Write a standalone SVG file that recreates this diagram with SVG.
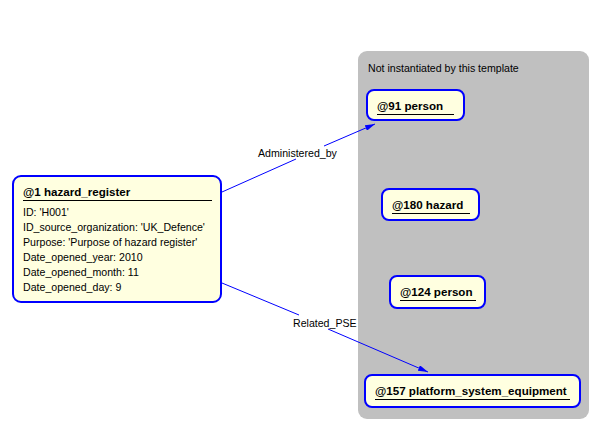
<svg xmlns="http://www.w3.org/2000/svg" width="614" height="447" viewBox="0 0 614 447">
<style>
text{font-family:"Liberation Sans",Arial,sans-serif;font-size:10.6px;fill:#000}
.t{font-weight:bold;font-size:11.6px}
.n{fill:#FFFFE0;stroke:#0000FF;stroke-width:2}
.u{stroke:#000;stroke-width:1}
.c{stroke:#0000FF;stroke-width:1;fill:none}
</style>
<defs>
<marker id="ah" viewBox="0 0 10 6" refX="10" refY="3" markerWidth="10" markerHeight="6" orient="auto" markerUnits="userSpaceOnUse">
<path d="M0,0 L10,3 L0,6 Z" fill="#0000FF"/>
</marker>
</defs>
<rect width="614" height="447" fill="#fff"/>
<g id="template">
<rect x="358" y="51" width="231" height="368" rx="9" fill="#C0C0C0"/>
<text x="368" y="72">Not instantiated by this template</text>
</g>
<g id="connectors">
<polyline class="c" points="222,192 296,159"/>
<polyline class="c" points="324,146 375,124" marker-end="url(#ah)"/>
<text x="258" y="157">Administered_by</text>
<polyline class="c" points="222,283 299,315"/>
<polyline class="c" points="328,329 428,372" marker-end="url(#ah)"/>
<text x="293" y="327">Related_PSE</text>
</g>
<g id="n1">
<rect class="n" x="13" y="176" width="208" height="126" rx="8"/>
<text class="t" x="23" y="196">@1 hazard_register</text>
<line class="u" x1="23" y1="200.5" x2="212" y2="200.5"/>
<text x="23" y="216">ID: 'H001'</text>
<text x="23" y="231">ID_source_organization: 'UK_Defence'</text>
<text x="23" y="246">Purpose: 'Purpose of hazard register'</text>
<text x="23" y="261">Date_opened_year: 2010</text>
<text x="23" y="276">Date_opened_month: 11</text>
<text x="23" y="291">Date_opened_day: 9</text>
</g>
<g id="n91">
<rect class="n" x="367" y="90" width="97" height="30" rx="7"/>
<text class="t" x="377" y="110">@91 person</text>
<line class="u" x1="377" y1="114.5" x2="454" y2="114.5"/>
</g>
<g id="n180">
<rect class="n" x="382" y="189" width="97" height="31" rx="7"/>
<text class="t" x="392" y="209">@180 hazard</text>
<line class="u" x1="392" y1="213.5" x2="470" y2="213.5"/>
</g>
<g id="n124">
<rect class="n" x="390" y="276" width="95" height="32" rx="7"/>
<text class="t" x="400" y="296">@124 person</text>
<line class="u" x1="400" y1="300.5" x2="476" y2="300.5"/>
</g>
<g id="n157">
<rect class="n" x="365" y="375" width="215" height="32" rx="7"/>
<text class="t" x="375" y="395">@157 platform_system_equipment</text>
<line class="u" x1="375" y1="399.5" x2="570" y2="399.5"/>
</g>
</svg>
